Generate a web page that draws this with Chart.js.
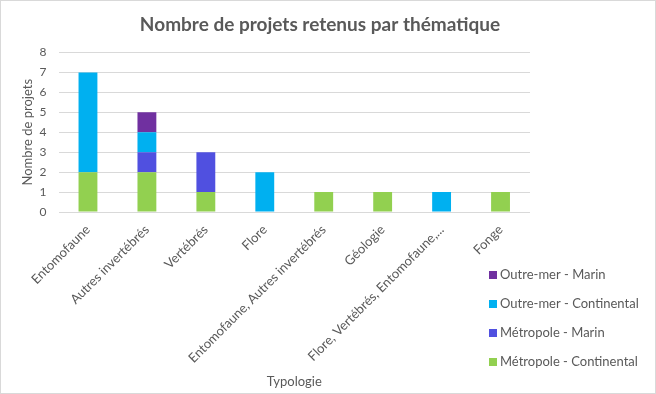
<!DOCTYPE html>
<html><head><meta charset="utf-8">
<script src="https://cdn.jsdelivr.net/npm/chart.js@4.4.1/dist/chart.umd.min.js"></script>
<style>html,body{margin:0;padding:0;background:#fff}#wrap{width:656px;height:394px;position:relative}</style>
</head><body><div id="wrap"><canvas id="c" width="656" height="394"></canvas></div>
<script>
const categories = ["Entomofaune","Autres invertébrés","Vertébrés","Flore","Entomofaune, Autres invertébrés","Géologie","Flore, Vertébrés, Entomofaune,...","Fonge"];
const metropoleContinental = [2,2,1,0,1,1,0,1];
const metropoleMarin = [0,1,2,0,0,0,0,0];
const outremerContinental = [5,1,0,2,0,0,1,0];
const outremerMarin = [0,1,0,0,0,0,0,0];
const yTicks = [0,1,2,3,4,5,6,7,8];
const chartTitle = 'Nombre de projets retenus par thématique';

const FONT = "Lato, 'Open Sans', sans-serif";
const TXT = "#595959";

const legendPlugin = {
  id: 'customLegend',
  afterDraw(chart) {
    const ctx = chart.ctx;
    ctx.save();
    ctx.strokeStyle = '#d9d9d9';
    ctx.lineWidth = 1;
    ctx.strokeRect(0.5, 0.5, 655, 393);
    ctx.fillStyle = TXT;
    ctx.font = "bold 19px " + FONT;
    ctx.textAlign = 'center';
    ctx.textBaseline = 'middle';
    ctx.fillText(chartTitle, 320, 25);
    ctx.textAlign = 'left';
    const ds = chart.data.datasets.slice().reverse();
    ctx.font = "13px " + FONT;
    ds.forEach((d, i) => {
      const y = 275 + i * 29;
      ctx.fillStyle = d.backgroundColor;
      ctx.fillRect(489, y - 4, 8, 8);
      ctx.fillStyle = TXT;
      ctx.fillText(d.label, 500, y);
    });
    ctx.restore();
  }
};

new Chart(document.getElementById('c'), {
  type: 'bar',
  data: {
    labels: categories,
    datasets: [
      {label: 'Métropole - Continental', data: metropoleContinental, backgroundColor: '#92D050'},
      {label: 'Métropole - Marin', data: metropoleMarin, backgroundColor: '#5050E0'},
      {label: 'Outre-mer - Continental', data: outremerContinental, backgroundColor: '#00B0F0'},
      {label: 'Outre-mer - Marin', data: outremerMarin, backgroundColor: '#7030A0'}
    ]
  },
  options: {
    responsive: false,
    animation: false,
    devicePixelRatio: 1,
    categoryPercentage: 1,
    barPercentage: 0.32,
    layout: {padding: {left: 0, right: 126, top: 52.5, bottom: 4}},
    plugins: {
      legend: {display: false},
      tooltip: {enabled: false},
      title: {display: false}
    },
    scales: {
      x: {
        stacked: true,
        grid: {display: false},
        border: {display: false},
        ticks: {color: TXT, font: {family: FONT, size: 13}, maxRotation: 45, minRotation: 45, autoSkip: false, padding: 2},
        title: {display: true, text: 'Typologie', color: TXT, font: {family: FONT, size: 13}, padding: {top: 0, bottom: 0}},
        afterFit(s) { s.height = 178; }
      },
      y: {
        stacked: true,
        min: 0, max: 8,
        afterBuildTicks(s) { s.ticks = yTicks.map(v => ({value: v})); },
        grid: {color: '#d9d9d9', drawTicks: false},
        border: {display: false},
        ticks: {color: TXT, font: {family: FONT, size: 12}, padding: 12},
        title: {display: true, text: 'Nombre de projets', color: TXT, font: {family: FONT, size: 13}, padding: {top: 20, bottom: 0}},
        afterFit(s) { s.width = 58.5; }
      }
    }
  },
  plugins: [legendPlugin]
});
</script></body></html>
